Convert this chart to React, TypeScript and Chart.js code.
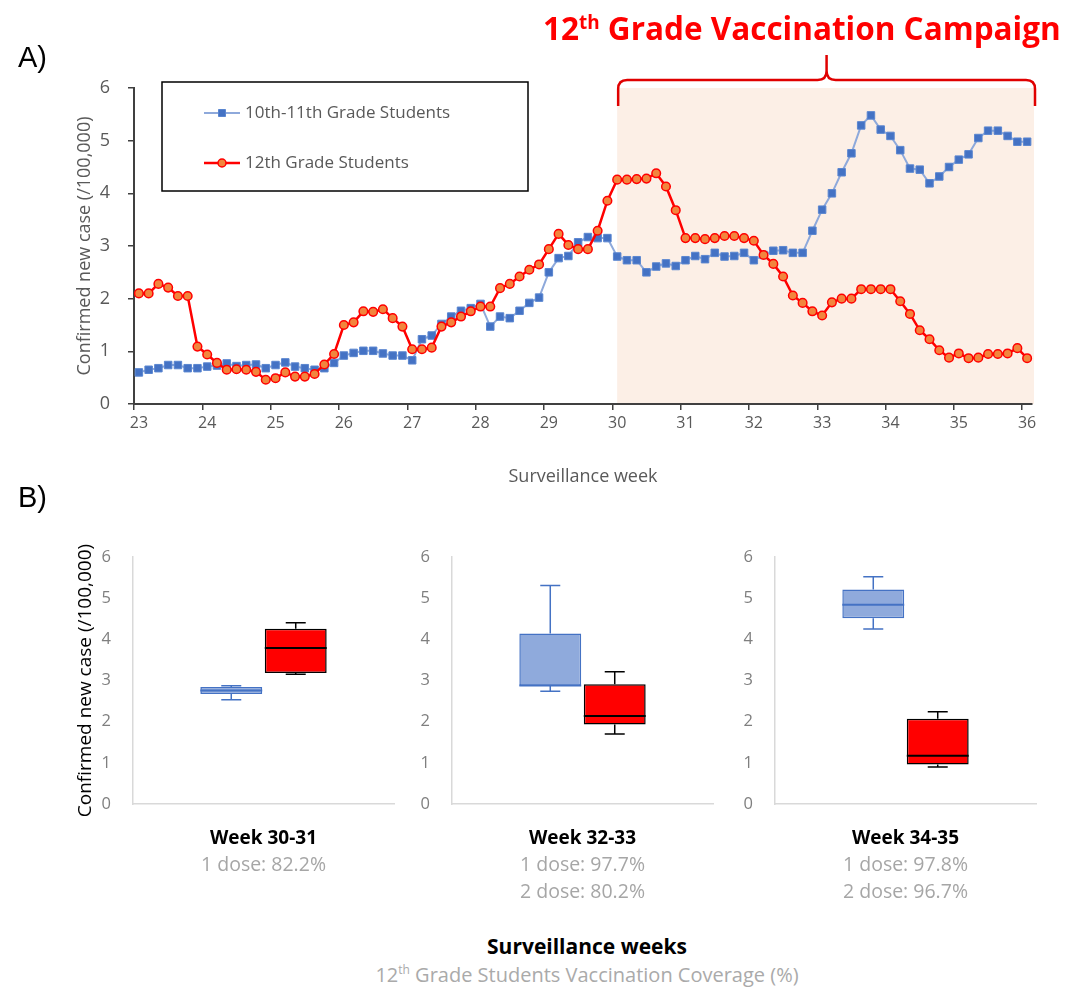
import React, { useEffect, useRef } from 'react';
import { Chart, registerables } from 'chart.js';

Chart.register(...registerables);

const FONT = "'Open Sans', 'Noto Sans', sans-serif";

// ---------- Panel A data ----------
const WEEK_TICKS = ['23', '24', '25', '26', '27', '28', '29', '30', '31', '32', '33', '34', '35', '36'];
const DAYS_PER_WEEK = 7;
const SERIES_NAMES = ['10th-11th Grade Students', '12th Grade Students'];
const GRADE_10_11 = [
  0.60, 0.65, 0.68, 0.74, 0.74, 0.68, 0.68,
  0.71, 0.73, 0.77, 0.72, 0.74, 0.75, 0.68,
  0.74, 0.79, 0.71, 0.68, 0.65, 0.68, 0.78,
  0.92, 0.97, 1.01, 1.01, 0.96, 0.92, 0.92,
  0.83, 1.23, 1.30, 1.52, 1.66, 1.77, 1.82,
  1.90, 1.47, 1.66, 1.63, 1.77, 1.92, 2.02,
  2.50, 2.77, 2.81, 3.07, 3.17, 3.15, 3.15,
  2.80, 2.73, 2.73, 2.50, 2.61, 2.67, 2.62,
  2.73, 2.81, 2.75, 2.87, 2.80, 2.81, 2.87,
  2.73, 2.83, 2.91, 2.92, 2.87, 2.87, 3.29,
  3.69, 4.00, 4.40, 4.76, 5.29, 5.48, 5.21,
  5.09, 4.82, 4.47, 4.45, 4.19, 4.32, 4.50,
  4.64, 4.74, 5.05, 5.19, 5.19, 5.09, 4.98,
  4.98,
];
const GRADE_12 = [
  2.10, 2.10, 2.28, 2.21, 2.05, 2.05, 1.09,
  0.94, 0.78, 0.65, 0.66, 0.65, 0.61, 0.46,
  0.49, 0.60, 0.52, 0.52, 0.57, 0.75, 0.95,
  1.50, 1.55, 1.76, 1.75, 1.80, 1.63, 1.47,
  1.04, 1.04, 1.07, 1.47, 1.55, 1.66, 1.76,
  1.85, 1.85, 2.20, 2.28, 2.42, 2.55, 2.65,
  2.94, 3.23, 3.02, 2.94, 2.94, 3.29, 3.86,
  4.26, 4.26, 4.27, 4.28, 4.38, 4.13, 3.68,
  3.15, 3.15, 3.13, 3.15, 3.19, 3.19, 3.15,
  3.10, 2.83, 2.66, 2.42, 2.06, 1.92, 1.76,
  1.68, 1.93, 2.00, 2.00, 2.18, 2.18, 2.18,
  2.18, 1.95, 1.71, 1.40, 1.23, 1.02, 0.88,
  0.96, 0.87, 0.88, 0.95, 0.95, 0.96, 1.06,
  0.87,
];
const CAMPAIGN_START_INDEX = 49;

// ---------- Panel B data ----------
const BOX_PERIODS = ['Week 30-31', 'Week 32-33', 'Week 34-35'];
const DOSE_COVERAGE = [
  ['1 dose: 82.2%'],
  ['1 dose: 97.7%', '2 dose: 80.2%'],
  ['1 dose: 97.8%', '2 dose: 96.7%'],
];
// [min, q1, median, q3, max]
const BOX_10_11 = [
  [2.53, 2.67, 2.76, 2.84, 2.87],
  [2.74, 2.87, 2.88, 4.14, 5.31],
  [4.25, 4.51, 4.84, 5.21, 5.52],
];
const BOX_12 = [
  [3.15, 3.18, 3.79, 4.26, 4.40],
  [1.70, 1.93, 2.14, 2.91, 3.21],
  [0.90, 0.96, 1.17, 2.07, 2.24],
];

const BLUE_LINE = '#8EA9DB';
const BLUE_MARK = '#4472C4';
const RED = '#FF0000';
const ORANGE = '#F2853D';
const AXIS_DARK = '#404040';
const TEXT_GRAY = '#595959';

function TopChart() {
  const ref = useRef<HTMLCanvasElement>(null);
  useEffect(() => {
    if (!ref.current) return;
    const labels = GRADE_12.map((_, i) => (i % DAYS_PER_WEEK === 0 ? WEEK_TICKS[i / DAYS_PER_WEEK] : ''));
    const decor = {
      id: 'decor',
      beforeDraw(chart: any) {
        const { ctx, chartArea, scales } = chart;
        const x0 = scales.x.getPixelForValue(CAMPAIGN_START_INDEX);
        ctx.save();
        ctx.fillStyle = '#FCEFE6';
        ctx.fillRect(x0, chartArea.top, chartArea.right + 2 - x0, chartArea.bottom - chartArea.top);
        ctx.restore();
      },
      afterDraw(chart: any) {
        const { ctx, chartArea, scales } = chart;
        // bracket
        const x0 = scales.x.getPixelForValue(CAMPAIGN_START_INDEX) + 1;
        const x1 = chartArea.right + 3;
        const mid = (x0 + x1) / 2;
        const yB = chartArea.top + 18;
        const yL = chartArea.top - 8;
        const yT = chartArea.top - 33;
        const r = 9;
        ctx.save();
        ctx.strokeStyle = '#E00000';
        ctx.lineWidth = 2.5;
        ctx.beginPath();
        ctx.moveTo(x0, yB);
        ctx.lineTo(x0, yL + r);
        ctx.quadraticCurveTo(x0, yL, x0 + r, yL);
        ctx.lineTo(mid - r, yL);
        ctx.quadraticCurveTo(mid, yL, mid, yL - r);
        ctx.lineTo(mid, yT);
        ctx.moveTo(mid, yL - r);
        ctx.quadraticCurveTo(mid, yL, mid + r, yL);
        ctx.lineTo(x1 - r, yL);
        ctx.quadraticCurveTo(x1, yL, x1, yL + r);
        ctx.lineTo(x1, yB);
        ctx.stroke();
        ctx.restore();

        // legend box
        const bx = chartArea.left + 28;
        const by = chartArea.top - 6;
        const bw = 366;
        const bh = 109;
        ctx.save();
        ctx.fillStyle = '#FFFFFF';
        ctx.fillRect(bx, by, bw, bh);
        ctx.strokeStyle = '#000000';
        ctx.lineWidth = 1.5;
        ctx.strokeRect(bx, by, bw, bh);
        const ds = chart.data.datasets;
        const rows = [by + 31, by + 81];
        ds.forEach((d: any, i: number) => {
          const y = rows[i];
          const lx0 = bx + 42;
          const lx1 = bx + 78;
          ctx.strokeStyle = d.borderColor;
          ctx.lineWidth = d.borderWidth;
          ctx.beginPath();
          ctx.moveTo(lx0, y);
          ctx.lineTo(lx1, y);
          ctx.stroke();
          const cx = (lx0 + lx1) / 2;
          ctx.fillStyle = d.pointBackgroundColor;
          ctx.strokeStyle = d.pointBorderColor;
          ctx.lineWidth = d.pointBorderWidth;
          ctx.beginPath();
          if (d.pointStyle === 'rect') {
            ctx.rect(cx - 3.5, y - 3.5, 7, 7);
          } else {
            ctx.arc(cx, y, 4, 0, Math.PI * 2);
          }
          ctx.fill();
          ctx.stroke();
          ctx.fillStyle = TEXT_GRAY;
          ctx.font = `17px ${FONT}`;
          ctx.textBaseline = 'middle';
          ctx.textAlign = 'left';
          ctx.fillText(d.label, lx1 + 5, y);
        });
        ctx.restore();
      },
    };
    const chart = new Chart(ref.current, {
      type: 'line',
      data: {
        labels,
        datasets: [
          {
            label: SERIES_NAMES[0],
            data: GRADE_10_11,
            borderColor: BLUE_LINE,
            borderWidth: 2,
            pointStyle: 'rect',
            pointRadius: 5.3,
            pointBackgroundColor: BLUE_MARK,
            pointBorderColor: '#5A86D0',
            pointBorderWidth: 1,
            tension: 0,
            order: 2,
          } as any,
          {
            label: SERIES_NAMES[1],
            data: GRADE_12,
            borderColor: RED,
            borderWidth: 2.5,
            pointStyle: 'circle',
            pointRadius: 4.3,
            pointBackgroundColor: ORANGE,
            pointBorderColor: RED,
            pointBorderWidth: 1.5,
            tension: 0,
            order: 1,
          } as any,
        ],
      },
      options: {
        responsive: false,
        animation: false,
        layout: { padding: { left: 70, top: 88, right: 38, bottom: 8 } },
        plugins: { legend: { display: false }, tooltip: { enabled: false } },
        scales: {
          x: {
            type: 'category',
            offset: true,
            grid: {
              offset: true,
              drawOnChartArea: false,
              drawTicks: true,
              tickLength: 6,
              lineWidth: 1.5,
              color: (c: any) => (c.index % DAYS_PER_WEEK === 0 ? AXIS_DARK : 'rgba(0,0,0,0)'),
            },
            border: { display: true, color: AXIS_DARK, width: 2 },
            ticks: {
              autoSkip: false,
              maxRotation: 0,
              minRotation: 0,
              padding: 4,
              color: TEXT_GRAY,
              font: { family: FONT, size: 16 },
            },
            title: {
              display: true,
              text: 'Surveillance week',
              color: TEXT_GRAY,
              font: { family: FONT, size: 18 },
              padding: { top: 4, bottom: 4 },
            },
            afterFit: (s: any) => {
              s.height = 88;
            },
          },
          y: {
            min: 0,
            max: 6,
            ticks: { stepSize: 1, padding: 18, color: TEXT_GRAY, font: { family: FONT, size: 18 } },
            grid: { drawOnChartArea: false, drawTicks: true, tickLength: 6, color: AXIS_DARK, lineWidth: 1.5 },
            border: { display: true, color: AXIS_DARK, width: 2 },
            title: {
              display: true,
              text: 'Confirmed new case (/100,000)',
              color: TEXT_GRAY,
              font: { family: FONT, size: 18 },
              padding: { top: 4, bottom: 4 },
            },
            afterFit: (s: any) => {
              s.width = 64;
            },
          },
        },
      } as any,
      plugins: [decor],
    });
    return () => chart.destroy();
  }, []);
  return (
    <canvas
      ref={ref}
      width={1070}
      height={500}
      style={{ position: 'absolute', left: 0, top: 0, width: 1070, height: 500 }}
    />
  );
}

function BoxPanel(props: { index: number; left: number; width: number; padLeft: number; yWidth: number; showTitle: boolean }) {
  const ref = useRef<HTMLCanvasElement>(null);
  const { index, left, width, padLeft, yWidth, showTitle } = props;
  useEffect(() => {
    if (!ref.current) return;
    const blue = BOX_10_11[index];
    const red = BOX_12[index];
    const dose = DOSE_COVERAGE[index];
    const chartRight = 261;
    const whiskers = {
      id: 'whiskers',
      afterDatasetsDraw(chart: any) {
        const { ctx, scales } = chart;
        const ys = scales.y;
        chart.data.datasets.forEach((ds: any, i: number) => {
          const bar = chart.getDatasetMeta(i).data[0];
          const [mn, q1, md, q3, mx] = ds.stats;
          const x = bar.x;
          const w = bar.width;
          ctx.save();
          ctx.strokeStyle = ds.whisker;
          ctx.lineWidth = 1.5;
          ctx.beginPath();
          ctx.moveTo(x, ys.getPixelForValue(q3));
          ctx.lineTo(x, ys.getPixelForValue(mx));
          ctx.moveTo(x - 10, ys.getPixelForValue(mx));
          ctx.lineTo(x + 10, ys.getPixelForValue(mx));
          ctx.moveTo(x, ys.getPixelForValue(q1));
          ctx.lineTo(x, ys.getPixelForValue(mn));
          ctx.moveTo(x - 10, ys.getPixelForValue(mn));
          ctx.lineTo(x + 10, ys.getPixelForValue(mn));
          ctx.stroke();
          ctx.lineWidth = 2;
          ctx.beginPath();
          ctx.moveTo(x - w / 2, ys.getPixelForValue(md));
          ctx.lineTo(x + w / 2, ys.getPixelForValue(md));
          ctx.stroke();
          ctx.restore();
        });
      },
    };
    const chart = new Chart(ref.current, {
      type: 'bar',
      data: {
        labels: [BOX_PERIODS[index]],
        datasets: [
          {
            label: SERIES_NAMES[0],
            data: [[blue[1], blue[3]]],
            stats: blue,
            whisker: BLUE_MARK,
            backgroundColor: '#8FAADC',
            borderColor: BLUE_MARK,
            borderWidth: 1.5,
            borderSkipped: false,
            categoryPercentage: 0.494,
            barPercentage: 0.96,
          } as any,
          {
            label: SERIES_NAMES[1],
            data: [[red[1], red[3]]],
            stats: red,
            whisker: '#000000',
            backgroundColor: RED,
            borderColor: '#000000',
            borderWidth: 1.5,
            borderSkipped: false,
            categoryPercentage: 0.494,
            barPercentage: 0.96,
          } as any,
        ],
      },
      options: {
        responsive: false,
        animation: false,
        layout: { padding: { left: padLeft, top: 37, right: width - padLeft - yWidth - chartRight, bottom: 5 } },
        plugins: { legend: { display: false }, tooltip: { enabled: false } },
        scales: {
          x: {
            offset: true,
            grid: { display: false },
            border: { display: true, color: '#D9D9D9', width: 1.5 },
            ticks: { color: '#000000', padding: 15, font: { family: FONT, size: 19, weight: 'bold' } },
            title: {
              display: true,
              text: dose,
              color: '#A6A6A6',
              font: { family: FONT, size: 19.5, lineHeight: 27 / 19.5 },
              padding: { top: 0, bottom: 4 + (2 - dose.length) * 27 },
            },
            afterFit: (s: any) => {
              s.height = 106;
            },
          },
          y: {
            min: 0,
            max: 6,
            ticks: { stepSize: 1, padding: 14, color: '#7F7F7F', font: { family: FONT, size: 16.5 } },
            grid: { display: false },
            border: { display: true, color: '#D9D9D9', width: 1.5 },
            title: {
              display: showTitle,
              text: 'Confirmed new case (/100,000)',
              color: '#000000',
              font: { family: FONT, size: 19 },
              padding: { top: 4, bottom: 4 },
            },
            afterFit: (s: any) => {
              s.width = yWidth;
            },
          },
        },
      } as any,
      plugins: [whiskers],
    });
    return () => chart.destroy();
  }, [index, width, padLeft, yWidth, showTitle]);
  return (
    <canvas
      ref={ref}
      width={width}
      height={395}
      style={{ position: 'absolute', left, top: 520, width, height: 395 }}
    />
  );
}

const supStyle: React.CSSProperties = { fontSize: '0.6em', verticalAlign: 'super', lineHeight: 0 };

export default function App() {
  return (
    <div
      style={{
        position: 'absolute',
        left: 0,
        top: 0,
        width: 1070,
        height: 989,
        overflow: 'hidden',
        background: '#FFFFFF',
      }}
    >
      <TopChart />
      <BoxPanel index={0} left={0} width={420} padLeft={70} yWidth={63} showTitle={true} />
      <BoxPanel index={1} left={420} width={320} padLeft={0} yWidth={32} showTitle={false} />
      <BoxPanel index={2} left={740} width={330} padLeft={0} yWidth={35} showTitle={false} />

      <div style={{ position: 'absolute', left: 18, top: 40, font: "29px 'Liberation Sans', Arial, sans-serif", lineHeight: '34px', color: '#000' }}>
        A)
      </div>
      <div style={{ position: 'absolute', left: 18, top: 480, font: "29px 'Liberation Sans', Arial, sans-serif", lineHeight: '34px', color: '#000' }}>
        B)
      </div>
      <div
        style={{
          position: 'absolute',
          left: 543,
          top: 8,
          fontFamily: FONT,
          fontWeight: 700,
          fontSize: 31.5,
          lineHeight: '40px',
          color: RED,
          whiteSpace: 'nowrap',
        }}
      >
        12<span style={supStyle}>th</span> Grade Vaccination Campaign
      </div>
      <div
        style={{
          position: 'absolute',
          left: 287,
          width: 600,
          top: 933,
          textAlign: 'center',
          fontFamily: FONT,
          fontWeight: 700,
          fontSize: 21,
          lineHeight: '26px',
          color: '#000',
        }}
      >
        Surveillance weeks
      </div>
      <div
        style={{
          position: 'absolute',
          left: 287,
          width: 600,
          top: 963,
          textAlign: 'center',
          fontFamily: FONT,
          fontSize: 20,
          lineHeight: '24px',
          color: '#AAAAAA',
          whiteSpace: 'nowrap',
        }}
      >
        12<span style={supStyle}>th</span> Grade Students Vaccination Coverage (%)
      </div>
    </div>
  );
}
